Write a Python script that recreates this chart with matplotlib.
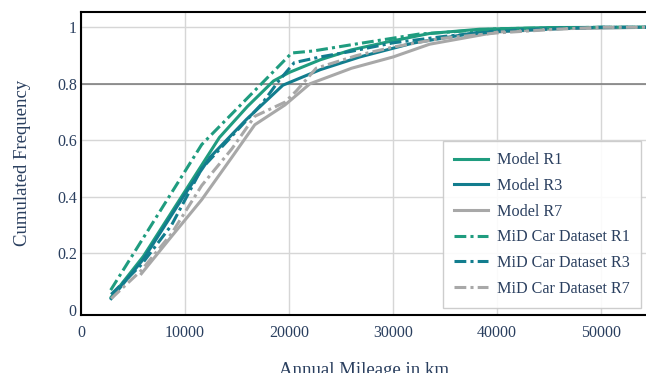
import numpy as np
import matplotlib
matplotlib.use("Agg")
import matplotlib.pyplot as plt

# values (annual mileage in km, cumulated frequency)
model_r1_x = [2900, 6000, 10000, 13300, 16000, 18500, 20000, 23000, 26000, 29700, 33500, 38300, 45000, 55000]
model_r1_y = [0.045, 0.19, 0.42, 0.61, 0.72, 0.81, 0.84, 0.885, 0.92, 0.95, 0.978, 0.993, 0.999, 1.0]

model_r3_x = [2900, 6000, 10000, 12400, 15900, 19400, 23000, 26800, 31900, 38300, 46000, 55000]
model_r3_y = [0.04, 0.18, 0.41, 0.54, 0.674, 0.795, 0.85, 0.895, 0.944, 0.983, 0.997, 1.0]

model_r7_x = [5800, 8700, 11600, 14500, 16700, 19600, 22000, 26000, 30000, 33500, 40000, 46000, 55000]
model_r7_y = [0.128, 0.26, 0.39, 0.54, 0.655, 0.725, 0.80, 0.855, 0.895, 0.94, 0.983, 0.995, 1.0]

mid_r1_x = [2850, 11600, 20250, 22300, 26300, 32500, 40200, 50000, 55000]
mid_r1_y = [0.07, 0.585, 0.909, 0.916, 0.94, 0.976, 0.995, 1.0, 1.0]

mid_r3_x = [2900, 5800, 8700, 11600, 14500, 17400, 19000, 20500, 23000, 26000, 30000, 35000, 40000, 46000, 50000, 55000]
mid_r3_y = [0.055, 0.16, 0.3, 0.5, 0.615, 0.73, 0.81, 0.875, 0.895, 0.915, 0.945, 0.968, 0.985, 0.995, 1.0, 1.0]

mid_r7_x = [2900, 5800, 8700, 11600, 14500, 16700, 19600, 20700, 22600, 26500, 30000, 34500, 40000, 45700, 50000, 55000]
mid_r7_y = [0.04, 0.14, 0.27, 0.44, 0.57, 0.685, 0.735, 0.775, 0.855, 0.9, 0.93, 0.96, 0.98, 0.993, 1.0, 1.0]

x_ticks = [0, 10000, 20000, 30000, 40000, 50000]
y_ticks = [0, 0.2, 0.4, 0.6, 0.8, 1]
y_tick_labels = ["0", "0.2", "0.4", "0.6", "0.8", "1"]

green = "#1f9c7f"
teal = "#127d8e"
gray = "#a8a8a8"
text_col = "#2a3f5f"

plt.rcParams["font.family"] = ["Liberation Serif", "DejaVu Serif"]
plt.rcParams["lines.scale_dashes"] = False

fig = plt.figure(figsize=(6.46, 3.73), dpi=100)
ax = fig.add_axes([0.1254, 0.1555, 0.8746, 0.8131])

dashdot = (0, (8.5, 3.0, 2.2, 3.0))
ax.plot(model_r1_x, model_r1_y, color=green, lw=2.2, label="Model R1")
ax.plot(model_r3_x, model_r3_y, color=teal, lw=2.2, label="Model R3")
ax.plot(model_r7_x, model_r7_y, color=gray, lw=2.2, label="Model R7")
ax.plot(mid_r1_x, mid_r1_y, color=green, lw=2.2, ls=dashdot, label="MiD Car Dataset R1")
ax.plot(mid_r3_x, mid_r3_y, color=teal, lw=2.2, ls=dashdot, label="MiD Car Dataset R3")
ax.plot(mid_r7_x, mid_r7_y, color=gray, lw=2.2, ls=dashdot, label="MiD Car Dataset R7")

ax.set_xlim(0, 54300)
ax.set_ylim(-0.018, 1.055)
ax.set_xticks(x_ticks)
ax.set_xticklabels([str(t) for t in x_ticks])
ax.set_yticks(y_ticks)
ax.set_yticklabels(y_tick_labels)
ax.tick_params(length=0, labelsize=11.5, labelcolor=text_col)
ax.tick_params(axis="y", pad=3)
ax.tick_params(axis="x", pad=7)

ax.grid(True, color="#d6d6d6", lw=1.0)
ax.set_axisbelow(True)
# no gridline at y = 0
ax.get_ygridlines()[0].set_visible(False)
ax.axhline(0.8, color="#787878", lw=1.1, zorder=1)

for s in ["left", "bottom", "top"]:
    ax.spines[s].set_color("black")
    ax.spines[s].set_linewidth(1.5)
ax.spines["right"].set_visible(False)

ax.set_xlabel("Annual Mileage in km", fontsize=13.5, color=text_col, labelpad=15)
ax.set_ylabel("Cumulated Frequency", fontsize=13.5, color=text_col, labelpad=19)

leg = ax.legend(loc="lower right", bbox_to_anchor=(0.991, 0.023), fontsize=11.6,
                frameon=True, fancybox=False, handlelength=2.1, handletextpad=0.55,
                labelspacing=0.6, borderpad=0.7, borderaxespad=0)
leg.get_frame().set_edgecolor("#c8c8c8")
leg.get_frame().set_linewidth(1.0)
leg.get_frame().set_alpha(0.9)
for t in leg.get_texts():
    t.set_color(text_col)

fig.savefig("out.png", dpi=100)
